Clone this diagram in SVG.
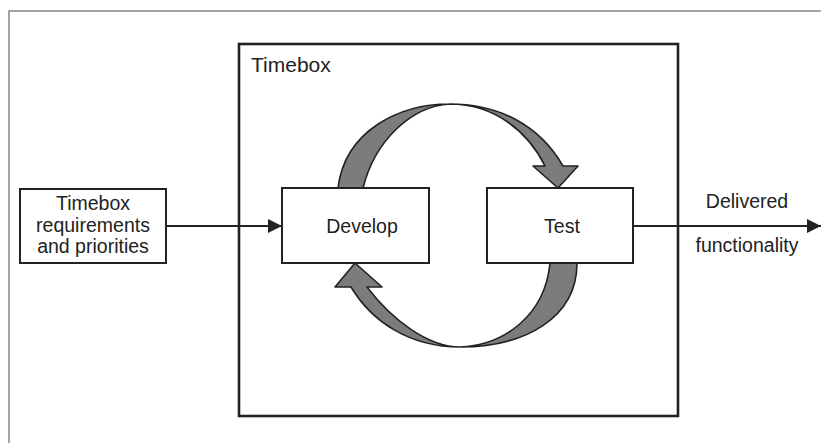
<svg xmlns="http://www.w3.org/2000/svg" width="821" height="443" viewBox="0 0 821 443">
<defs>
<style>
.box{fill:#fff;stroke:#222;stroke-width:2}
.lbl{font-family:"Liberation Sans",Arial,sans-serif;font-size:19.5px;fill:#222}
.conn{stroke:#222;stroke-width:2;fill:none}
.cyc{fill:#7c7c7e;stroke:#222;stroke-width:1.6;stroke-linejoin:round}
</style>
<marker id="ah2" viewBox="0 0 10 10" refX="10" refY="5" markerWidth="14" markerHeight="14" markerUnits="userSpaceOnUse" orient="auto">
<path d="M0,0 L10,5 L0,10 Z" fill="#222"/>
</marker>
</defs>
<rect width="821" height="443" fill="#fff"/>
<path d="M9,443 L9,11 L821,11" fill="none" stroke="#888" stroke-width="1.5"/>
<g id="timebox">
<rect x="239" y="44" width="439" height="372" fill="#fff" stroke="#222" stroke-width="2.6"/>
<text class="lbl" x="251" y="72" style="font-size:21px">Timebox</text>
</g>
<g id="connectors">
<line class="conn" x1="166" y1="226" x2="282" y2="226" marker-end="url(#ah2)"/>
<line class="conn" x1="633" y1="226" x2="821" y2="226" marker-end="url(#ah2)"/>
<path class="cyc" d="M338,188 C345,130 400,104 450,104 C495,104 528,132 545,166 L533,166 L558,188 L578,166 L563,166 C540,126 500,104 450,104 C412,106 375,140 363,188 Z"/>
<path class="cyc" d="M577,263 C577,318 525,347 460,347 C410,347 372,322 351,287 L335,287 L355,263 L382,287 L367,287 C392,320 428,347 460,347 C505,345 545,315 550,263 Z"/>
</g>
<g id="requirements">
<rect class="box" x="20" y="189" width="146" height="74"/>
<text class="lbl" text-anchor="middle" x="93" y="210">Timebox</text>
<text class="lbl" text-anchor="middle" x="93" y="232">requirements</text>
<text class="lbl" text-anchor="middle" x="93" y="253">and priorities</text>
</g>
<g id="develop">
<rect class="box" x="282" y="188" width="147" height="75"/>
<text class="lbl" text-anchor="middle" x="362" y="233">Develop</text>
</g>
<g id="test">
<rect class="box" x="487" y="188" width="146" height="75"/>
<text class="lbl" text-anchor="middle" x="562" y="233">Test</text>
</g>
<g id="delivered">
<text class="lbl" text-anchor="middle" x="747" y="208">Delivered</text>
<text class="lbl" text-anchor="middle" x="747" y="252">functionality</text>
</g>
</svg>
